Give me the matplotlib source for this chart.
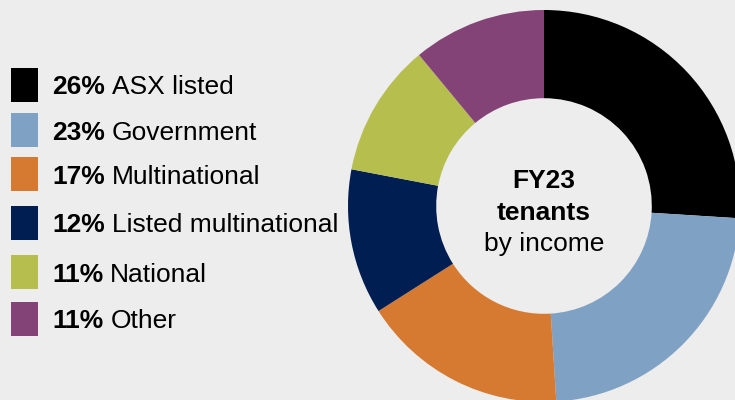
import matplotlib
matplotlib.use("Agg")
import matplotlib.pyplot as plt
from matplotlib.patches import Rectangle

categories = ["ASX listed", "Government", "Multinational", "Listed multinational", "National", "Other"]
values = [26, 23, 17, 12, 11, 11]
colors = ["#000000", "#7FA2C4", "#D57A30", "#001E52", "#B6BE4E", "#844377"]
center_lines = ["FY23", "tenants", "by income"]

plt.rcParams['font.family'] = ['Liberation Sans', 'DejaVu Sans']
BG = "#EDEDED"
W, H = 735, 400
fig = plt.figure(figsize=(W / 100, H / 100), dpi=100, facecolor=BG)

# donut
cx, cy, R = 544, 206, 196
ax = fig.add_axes([(cx - R) / W, (H - cy - R) / H, 2 * R / W, 2 * R / H])
ax.set_facecolor("none")
wedges, _ = ax.pie(values, colors=colors, startangle=90, counterclock=False,
                   radius=1.0, wedgeprops=dict(width=0.45, linewidth=0))
ax.set_xlim(-1, 1)
ax.set_ylim(-1, 1)
ax.set_aspect("equal")
ax.axis("off")
for w in wedges:
    w.set_clip_on(False)

FS = 19
ax.text(0, 0.13, center_lines[0], ha="center", va="center", fontsize=FS, fontweight="bold")
ax.text(0, -0.035, center_lines[1], ha="center", va="center", fontsize=FS, fontweight="bold")
ax.text(0, -0.195, center_lines[2], ha="center", va="center", fontsize=FS)

# legend
row_y = [85, 130, 174, 223, 272, 319]
for yc, v, c, cat in zip(row_y, values, colors, categories):
    fig.patches.append(Rectangle((11 / W, (H - yc - 17) / H), 27 / W, 34 / H,
                                 transform=fig.transFigure, facecolor=c, edgecolor="none"))
    t = fig.text(52 / W, (H - yc) / H, f"{v}%", fontsize=FS, fontweight="bold",
                 ha="left", va="center_baseline")
    fig.canvas.draw()
    bb = t.get_window_extent()
    fig.text((bb.x1 + 7) / W, (H - yc) / H, cat, fontsize=FS, ha="left", va="center_baseline")

fig.savefig("out.png", dpi=100, facecolor=BG)
